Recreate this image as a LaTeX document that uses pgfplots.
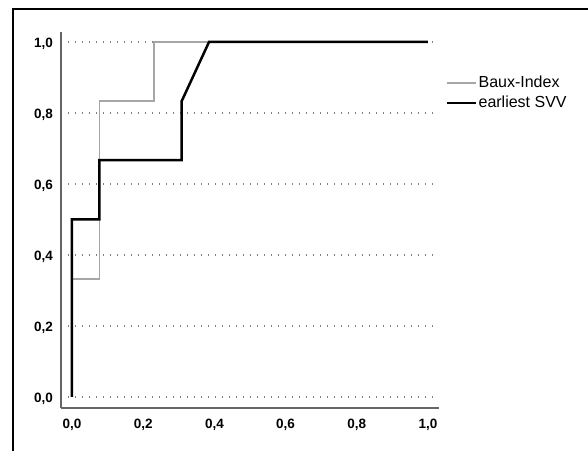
\documentclass[border=0pt]{standalone}
\usepackage{fontspec}
\setmainfont{Liberation Sans}
\usepackage{pgfplots}
\pgfplotsset{compat=1.18}
\newcommand{\legfont}{\fontsize{16}{18}\selectfont}
\begin{document}
\begin{tikzpicture}[x=1pt,y=1pt]
\useasboundingbox (0,0) rectangle (588,451);
\draw[line width=2.4pt] (13,0) -- (13,442) -- (588,442);
\begin{axis}[
  at={(61pt,43pt)}, anchor=south west,
  scale only axis, width=378pt, height=376pt,
  xmin=-0.0309, xmax=1.031, ymin=-0.031, ymax=1.028,
  axis x line=bottom, axis y line=left,
  axis line style={-, draw=black!60, line width=1.4pt},
  xtick={0,0.2,0.4,0.6,0.8,1.0}, ytick={0,0.2,0.4,0.6,0.8,1.0},
  major tick length=0pt,
  /pgf/number format/assume math mode=true,
  /pgf/number format/.cd, fixed, fixed zerofill, precision=1, use comma, /pgfplots/.cd,
  tick label style={font=\bfseries\fontsize{13.5}{14}\selectfont, inner sep=0pt},
  yticklabel style={xshift=-8pt, yshift=-2pt},
  xticklabel style={yshift=-11pt},
  ymajorgrids,
  grid style={draw=black!50, line width=1.3pt, dash pattern=on 1.3pt off 5.7pt},
  clip=false,
  legend style={at={(axis cs:1.049,0.911)}, anchor=north west, draw=none, fill=none,
    inner sep=0pt, row sep=1pt, column sep=0pt,
    nodes={inner sep=1.5pt, text height=12pt, text depth=4pt}},
  legend cell align=left,
  legend image code/.code={\draw[#1] (0pt,0pt) -- (29pt,0pt); \path (0pt,-8pt);},
]
\addplot[draw=black!35, line width=1.5pt] coordinates {
  (0,0) (0,0.333) (0.077,0.333) (0.077,0.833) (0.231,0.833) (0.231,1) (1,1)};
\addlegendentry{\legfont Baux-Index}
\addplot[draw=black, line width=2.5pt] coordinates {
  (0,0) (0,0.5) (0.077,0.5) (0.077,0.667) (0.308,0.667) (0.308,0.833) (0.385,1) (1,1)};
\addlegendentry{\legfont earliest SVV}
\end{axis}
\end{tikzpicture}
\end{document}
